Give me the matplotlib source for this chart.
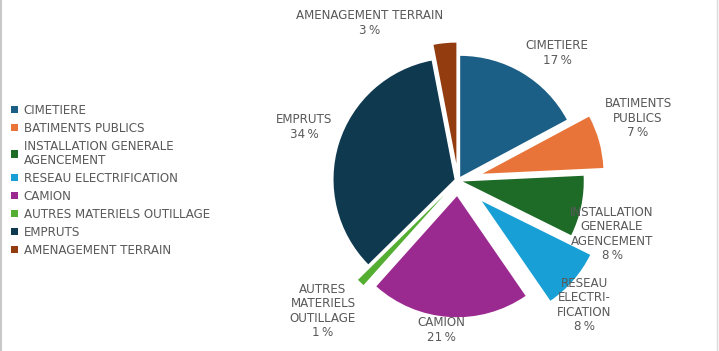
import matplotlib
matplotlib.use("Agg")
import matplotlib.pyplot as plt
from matplotlib.lines import Line2D

categories = ["CIMETIERE", "BATIMENTS PUBLICS", "INSTALLATION GENERALE\nAGENCEMENT",
              "RESEAU ELECTRIFICATION", "CAMION", "AUTRES MATERIELS OUTILLAGE",
              "EMPRUTS", "AMENAGEMENT TERRAIN"]
pie_labels = ["CIMETIERE", "BATIMENTS\nPUBLICS", "INSTALLATION\nGENERALE\nAGENCEMENT",
              "RESEAU\nELECTRI-\nFICATION", "CAMION", "AUTRES\nMATERIELS\nOUTILLAGE",
              "EMPRUTS", "AMENAGEMENT TERRAIN"]
percents = [17, 7, 8, 8, 21, 1, 34, 3]
colors = ["#1b5e86", "#e9743a", "#1d6b27", "#179fd6", "#9b2a90", "#54ae32", "#0e394f", "#923c0f"]
explode = [0.035, 0.21, 0.04, 0.26, 0.13, 0.165, 0.03, 0.14]

# label positions in figure pixels (x, y from top)
label_pos = [(557, 53), (638, 118), (612, 234), (584, 305), (441, 330), (323, 311), (304, 127), (370, 23)]

W, H = 719, 351
cx, cy, R = 458, 180.5, 121

fig = plt.figure(figsize=(W / 100, H / 100), dpi=100)
ax = fig.add_axes([0, 0, 1, 1])
wedges, _ = ax.pie(percents, colors=colors, explode=explode, startangle=90,
                   counterclock=False, radius=1, wedgeprops=dict(linewidth=0))
ax.set_xlim(-cx / R, (W - cx) / R)
ax.set_ylim(-(H - cy) / R, cy / R)
ax.set_aspect("auto")
ax.axis("off")

for lab, p, (px, py) in zip(pie_labels, percents, label_pos):
    fig.text(px / W, 1 - py / H, f"{lab}\n{p}\u2009%", ha="center", va="center",
             fontsize=8.6, color="#595959", linespacing=1.15)

leg = fig.legend(wedges, categories, loc="upper left", bbox_to_anchor=(11 / W, 1 - 104 / H),
                 frameon=False, fontsize=8.6, labelcolor="#595959", handlelength=0.55,
                 handleheight=0.55, handletextpad=0.5, labelspacing=0.42, borderpad=0,
                 borderaxespad=0)
for t in leg.get_texts():
    t.set_linespacing(1.05)

fig.add_artist(Line2D([0.8 / W, 0.8 / W], [0, 1], transform=fig.transFigure,
                      color="#c8c8c8", linewidth=1.5))
fig.add_artist(Line2D([717 / W, 717 / W], [0, 1], transform=fig.transFigure,
                      color="#d9d9d9", linewidth=1))
fig.savefig("out.png", dpi=100)
